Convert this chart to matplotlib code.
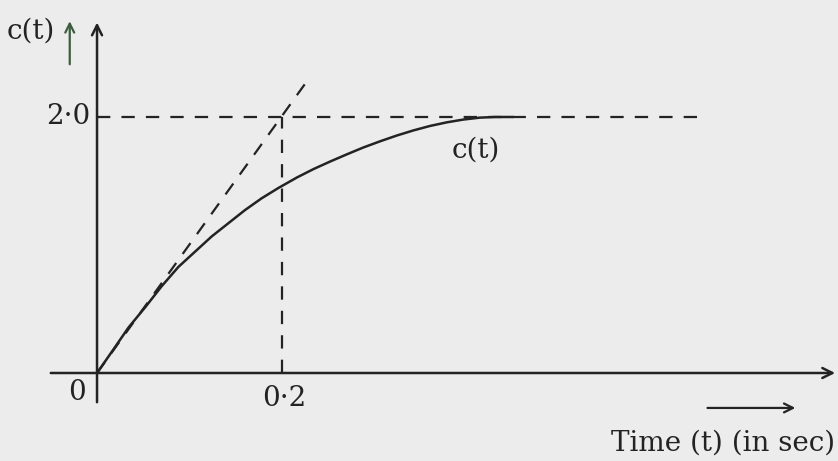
import numpy as np
from matplotlib import pyplot as plt

# step response
t_vals = [0.0, 0.016, 0.034, 0.052, 0.070, 0.088, 0.106, 0.124, 0.142, 0.160, 0.178, 0.196,
          0.216, 0.234, 0.252, 0.270, 0.288, 0.306, 0.324, 0.342, 0.360, 0.378, 0.396,
          0.414, 0.430, 0.450]
c_vals = [0.0, 0.166, 0.355, 0.513, 0.679, 0.829, 0.948, 1.067, 1.170, 1.273, 1.365, 1.445,
          1.527, 1.593, 1.652, 1.708, 1.762, 1.810, 1.855, 1.895, 1.930, 1.958, 1.980,
          1.995, 2.0, 2.0]

# tangent at the origin and the reference lines
tangent_t = [0.0, 0.225]
tangent_c = [0.0, 2.26]
final_value = 2.0
time_constant = 0.2
dash_end_t = 0.655

tick_labels = {'origin': '0', 'time': '0·2', 'value': '2·0'}

plt.rcParams['font.family'] = ['DejaVu Serif']

fig = plt.figure(figsize=(8.38, 4.61), dpi=100)
fig.patch.set_facecolor('#ececec')
ax = fig.add_axes([0, 0, 1, 1])
ax.set_facecolor('#ececec')
ax.set_xlim(-0.1049, 0.8011)
ax.set_ylim(-0.6875, 2.914)
ax.axis('off')

ink = '#232323'

# axes with arrows
ax.annotate('', xy=(0.801, 0), xytext=(-0.053, 0),
            arrowprops=dict(arrowstyle='->', color=ink, lw=1.8, mutation_scale=18))
ax.annotate('', xy=(0, 2.76), xytext=(0, -0.25),
            arrowprops=dict(arrowstyle='->', color=ink, lw=1.8, mutation_scale=18))

# curve
ax.plot(t_vals, c_vals, color=ink, lw=1.8, solid_capstyle='round', solid_joinstyle='round')

# dashed guides
dash = dict(color=ink, lw=1.6, linestyle=(0, (6, 5)))
ax.plot([0, dash_end_t], [final_value, final_value], **dash)
ax.plot([time_constant, time_constant], [0, final_value], **dash)
ax.plot(tangent_t, tangent_c, **dash)

# labels
fs = 20
ax.text(-0.0076, final_value, tick_labels['value'], ha='right', va='center', fontsize=fs, color=ink)
ax.text(-0.0216, -0.156, tick_labels['origin'], ha='center', va='center', fontsize=fs, color=ink)
ax.text(0.202, -0.203, tick_labels['time'], ha='center', va='center', fontsize=fs, color=ink)
ax.text(0.41, 1.74, 'c(t)', ha='center', va='center', fontsize=fs, color=ink)

ax.text(-0.0714, 2.67, 'c(t)', ha='center', va='center', fontsize=fs, color=ink)
ax.annotate('', xy=(-0.0295, 2.77), xytext=(-0.0295, 2.39),
            arrowprops=dict(arrowstyle='->', color='#3d5c3d', lw=1.6, mutation_scale=16))

ax.annotate('', xy=(0.758, -0.273), xytext=(0.657, -0.273),
            arrowprops=dict(arrowstyle='->', color=ink, lw=1.6, mutation_scale=16))
ax.text(0.798, -0.547, 'Time (t) (in sec)', ha='right', va='center', fontsize=fs, color=ink)

fig.savefig('out.png', dpi=100, facecolor=fig.get_facecolor())
